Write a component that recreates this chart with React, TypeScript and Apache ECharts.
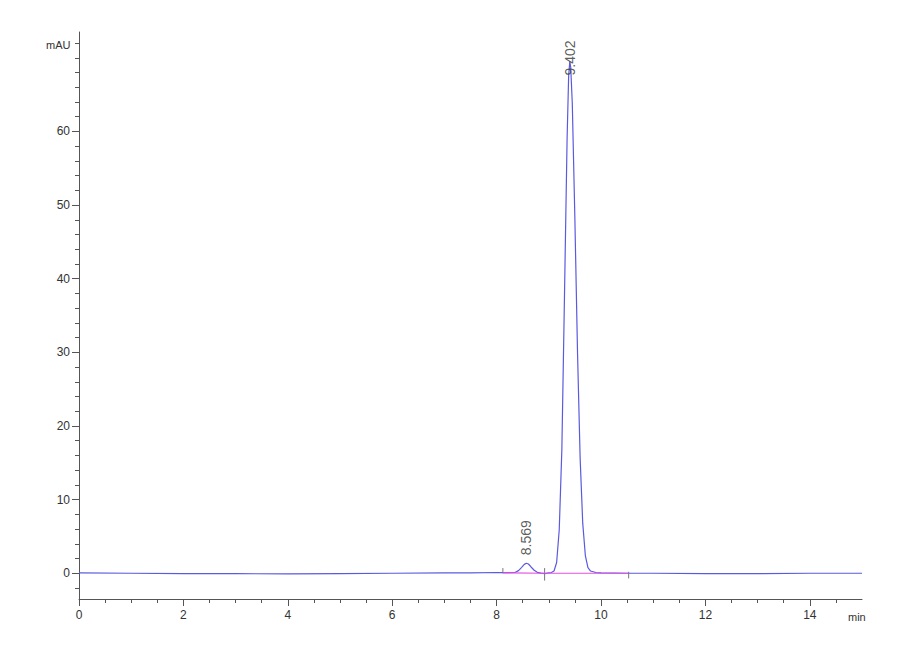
import * as echarts from 'echarts';
import { useEffect, useRef } from 'react';

// retention time (min) and absorbance (mAU)
const times = [
  0, 1, 2, 3, 4, 5, 6, 7, 7.5, 8.0, 8.2, 8.35, 8.42, 8.48, 8.53, 8.57, 8.61,
  8.66, 8.72, 8.78, 8.85, 8.92, 9.0, 9.05, 9.1, 9.15, 9.2, 9.25, 9.3, 9.35,
  9.38, 9.402, 9.42, 9.45, 9.5, 9.55, 9.6, 9.65, 9.7, 9.75, 9.8, 9.9, 10.0,
  10.5, 11, 12, 13, 14, 15,
];
const absorbance = [
  0.05, 0.0, -0.05, -0.05, -0.1, -0.05, 0.0, 0.05, 0.05, 0.1, 0.08, 0.1, 0.35,
  0.8, 1.2, 1.35, 1.25, 0.85, 0.4, 0.12, 0.02, -0.05, 0.05, 0.1, 0.3, 1.45,
  5.9, 16.8, 37.5, 58.8, 67.5, 69.5, 68.7, 63.8, 48, 30, 15.7, 6.8, 2.4, 0.75,
  0.3, 0.1, 0.05, 0.0, 0.0, -0.05, -0.05, 0.0, 0.0,
];

// integrated peaks
const peakTimes = [8.569, 9.402];
const peakHeights = [1.35, 69.5];
const peakLabelGap = [8, -14];

// integration baseline events
const eventTimes = [8.12, 8.92, 10.53];
const eventBaseline = [0.05, 0.0, 0.0];
const eventLow = [0.0, -1.0, -0.7];
const eventHigh = [0.7, 0.7, 0.2];

const xMajorTicks = [0, 2, 4, 6, 8, 10, 12, 14];
const xMinorTicks = [
  0.5, 1, 1.5, 2.5, 3, 3.5, 4.5, 5, 5.5, 6.5, 7, 7.5, 8.5, 9, 9.5, 10.5, 11,
  11.5, 12.5, 13, 13.5, 14.5,
];
const yMajorTicks = [0, 10, 20, 30, 40, 50, 60];
const yMinorTicks = [
  -2, 2, 4, 6, 8, 12, 14, 16, 18, 22, 24, 26, 28, 32, 34, 36, 38, 42, 44, 46,
  48, 52, 54, 56, 58, 62, 64, 66, 68, 70, 72,
];

const axisColor = '#555';
const fontFamily = 'Liberation Sans, Arial, sans-serif';
const labelStyle = { color: '#333', fontSize: 12, fontFamily };

function Chromatogram() {
  const chartRef = useRef(null);

  useEffect(() => {
    const myChart = echarts.init(chartRef.current, null, { renderer: 'svg' });

    const xAxisBase = {
      type: 'value',
      min: 0,
      max: 15,
      position: 'bottom',
      splitLine: { show: false },
      axisLine: { onZero: false, lineStyle: { color: axisColor, width: 1 } },
    };
    const yAxisBase = {
      type: 'value',
      min: -3.5,
      max: 73.5,
      position: 'left',
      splitLine: { show: false },
      axisLine: { show: true, lineStyle: { color: axisColor, width: 1 } },
    };

    const eventSeries = eventTimes.map((t, i) => ({
      type: 'line',
      data: [
        [t, eventLow[i]],
        [t, eventHigh[i]],
      ],
      symbol: 'none',
      lineStyle: { color: '#777', width: 1 },
      z: 3,
    }));

    const option = {
      animation: false,
      grid: { left: 71, right: 38, top: 24, bottom: 61 },
      xAxis: [
        {
          ...xAxisBase,
          axisTick: {
            customValues: xMajorTicks,
            length: 7,
            lineStyle: { color: axisColor },
          },
          axisLabel: { customValues: xMajorTicks, margin: 10, ...labelStyle },
        },
        {
          ...xAxisBase,
          axisLine: { show: false, onZero: false },
          axisTick: {
            customValues: xMinorTicks,
            length: 4,
            lineStyle: { color: axisColor },
          },
          axisLabel: { show: false },
        },
      ],
      yAxis: [
        {
          ...yAxisBase,
          axisTick: {
            customValues: yMajorTicks,
            length: 7,
            lineStyle: { color: axisColor },
          },
          axisLabel: { customValues: yMajorTicks, margin: 9, ...labelStyle },
        },
        {
          ...yAxisBase,
          axisLine: { show: false },
          axisTick: {
            customValues: yMinorTicks,
            length: 4,
            lineStyle: { color: axisColor },
          },
          axisLabel: { show: false },
        },
      ],
      graphic: [
        {
          type: 'text',
          left: 38,
          top: 31,
          style: { text: 'mAU', fill: '#333', fontSize: 11, fontFamily },
        },
        {
          type: 'text',
          left: 840,
          top: 603,
          style: { text: 'min', fill: '#333', fontSize: 11, fontFamily },
        },
      ],
      series: [
        {
          type: 'line',
          data: times.map((t, i) => [t, absorbance[i]]),
          symbol: 'none',
          lineStyle: { color: '#5a5ae0', width: 1.2 },
          z: 4,
        },
        {
          type: 'line',
          data: eventTimes.map((t, i) => [t, eventBaseline[i]]),
          symbol: 'none',
          lineStyle: { color: '#e64fe0', width: 1.2 },
          z: 5,
        },
        ...eventSeries,
        {
          type: 'scatter',
          symbolSize: 0,
          data: peakTimes.map((t, i) => ({
            value: [t, peakHeights[i]],
            label: { distance: peakLabelGap[i] },
          })),
          label: {
            show: true,
            position: 'top',
            rotate: 90,
            align: 'left',
            verticalAlign: 'middle',
            formatter: (p: any) => p.value[0].toFixed(3),
            color: '#333',
            fontSize: 14,
            fontFamily,
          },
          z: 6,
        },
      ],
    };

    myChart.setOption(option);

    return () => {
      myChart.dispose();
    };
  }, []);

  return <div ref={chartRef} style={{ width: '892px', height: '652px' }}></div>;
}

export default function App() {
  return <Chromatogram />;
}
